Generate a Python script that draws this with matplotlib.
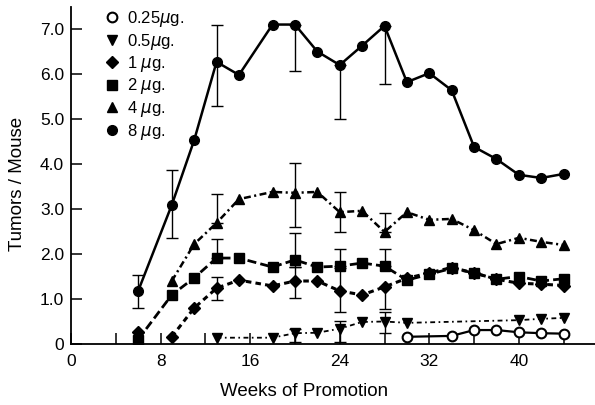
import numpy as np
import matplotlib
matplotlib.use("Agg")
import matplotlib.pyplot as plt
from matplotlib.lines import Line2D

plt.rcParams["font.family"] = ["Liberation Sans", "DejaVu Sans"]
plt.rcParams["lines.scale_dashes"] = False
plt.rcParams["mathtext.fontset"] = "dejavusans"


# ── Data: tumors per mouse by week of promotion ──────────────────────────────

weeks_8ug = [6, 9, 11, 13, 15, 18, 20, 22, 24, 26, 28, 30, 32, 34, 36, 38, 40, 42, 44]
tumors_8ug = [1.18, 3.09, 4.53, 6.27, 5.98, 7.10, 7.10, 6.50, 6.20, 6.63, 7.07,
              5.82, 6.02, 5.64, 4.38, 4.11, 3.76, 3.69, 3.78]

weeks_4ug = [9, 11, 13, 15, 18, 20, 22, 24, 26, 28, 30, 32, 34, 36, 38, 40, 42, 44]
tumors_4ug = [1.40, 2.22, 2.69, 3.22, 3.38, 3.36, 3.38, 2.93, 2.96, 2.49,
              2.93, 2.76, 2.78, 2.53, 2.22, 2.36, 2.27, 2.20]

weeks_2ug = [6, 9, 11, 13, 15, 18, 20, 22, 24, 26, 28, 30, 32, 34, 36, 38, 40, 42, 44]
tumors_2ug = [0.10, 1.09, 1.47, 1.91, 1.91, 1.71, 1.87, 1.71, 1.73, 1.80, 1.73,
              1.42, 1.55, 1.68, 1.58, 1.44, 1.50, 1.40, 1.45]

weeks_1ug = [9, 11, 13, 15, 18, 20, 22, 24, 26, 28, 30, 32, 34, 36, 38, 40, 42, 44]
tumors_1ug = [0.16, 0.80, 1.24, 1.42, 1.29, 1.40, 1.40, 1.18, 1.09, 1.27,
              1.46, 1.58, 1.70, 1.58, 1.44, 1.35, 1.33, 1.30]
# single early reading, not joined to the rest of the 1 ug curve
weeks_1ug_early = [6]
tumors_1ug_early = [0.27]

weeks_05ug = [13, 18, 20, 22, 24, 26, 28, 30, 40, 42, 44]
tumors_05ug = [0.14, 0.14, 0.24, 0.25, 0.34, 0.49, 0.50, 0.47, 0.53, 0.56, 0.58]

weeks_025ug = [30, 34, 36, 38, 40, 42, 44]
tumors_025ug = [0.16, 0.18, 0.31, 0.31, 0.26, 0.24, 0.23]

# error bars: week, extent below and above the mean
err_weeks_8ug = [6, 9, 13, 20, 24, 28]
err_lo_8ug = [0.38, 0.73, 0.97, 1.03, 1.20, 1.29]
err_hi_8ug = [0.35, 0.78, 0.83, 0.00, 0.00, 0.00]

err_weeks_4ug = [13, 20, 24, 28]
err_lo_4ug = [0.00, 0.76, 0.44, 0.00]
err_hi_4ug = [0.64, 0.66, 0.45, 0.42]

err_weeks_2ug = [13, 20, 24, 28]
err_lo_2ug = [0.00, 0.16, 0.00, 0.00]
err_hi_2ug = [0.42, 0.60, 0.38, 0.38]

err_weeks_1ug = [13, 20, 24, 28]
err_lo_1ug = [0.26, 0.38, 0.47, 0.49]
err_hi_1ug = [0.25, 0.31, 0.50, 0.00]

err_weeks_05ug = [20, 24, 28]
err_lo_05ug = [0.20, 0.30, 0.26]
err_hi_05ug = [0.09, 0.17, 0.21]

dose_labels = [r"0.25$\mu$g.", r"0.5$\mu$g.", r"1 $\mu$g.", r"2 $\mu$g.", r"4 $\mu$g.", r"8 $\mu$g."]
x_ticks = [0, 8, 16, 24, 32, 40]
y_ticks = [0, 1, 2, 3, 4, 5, 6, 7]
y_tick_labels = ["0", "1.0", "2.0", "3.0", "4.0", "5.0", "6.0", "7.0"]


# ── Figure ───────────────────────────────────────────────────────────────────

fig = plt.figure(figsize=(5.95, 4.05), dpi=100)
ax = fig.add_axes([71 / 595, 61 / 405, 524 / 595, 337 / 405])


def add_errors(weeks, values, err_weeks, lo, hi):
    ys = [values[weeks.index(w)] for w in err_weeks]
    ax.errorbar(err_weeks, ys, yerr=[lo, hi], fmt="none", ecolor="black",
                elinewidth=1.0, capsize=4, capthick=1.0, zorder=2)


# 8 ug — solid line, filled circles
ax.plot(weeks_8ug, tumors_8ug, color="black", lw=1.8, marker="o", ms=7, zorder=3)
add_errors(weeks_8ug, tumors_8ug, err_weeks_8ug, err_lo_8ug, err_hi_8ug)

# 4 ug — dash-dot, filled triangles
ax.plot(weeks_4ug, tumors_4ug, color="black", lw=1.8, dashes=(5, 2.5, 1.5, 2.5),
        marker="^", ms=7.5, zorder=3)
add_errors(weeks_4ug, tumors_4ug, err_weeks_4ug, err_lo_4ug, err_hi_4ug)

# 2 ug — long dashes, filled squares
ax.plot(weeks_2ug, tumors_2ug, color="black", lw=2.0, dashes=(6.5, 3),
        marker="s", ms=6.5, zorder=3)
add_errors(weeks_2ug, tumors_2ug, err_weeks_2ug, err_lo_2ug, err_hi_2ug)

# 1 ug — short dashes, filled diamonds
ax.plot(weeks_1ug, tumors_1ug, color="black", lw=2.2, dashes=(4, 3),
        marker="D", ms=6.5, zorder=3)
ax.plot(weeks_1ug_early, tumors_1ug_early, color="black", ls="none",
        marker="D", ms=6.5, zorder=3)
add_errors(weeks_1ug, tumors_1ug, err_weeks_1ug, err_lo_1ug, err_hi_1ug)

# 0.5 ug — thin dash-dot, inverted triangles
ax.plot(weeks_05ug, tumors_05ug, color="black", lw=1.3, dashes=(3.5, 2.5, 1.2, 2.5),
        marker="v", ms=7.5, zorder=3)
add_errors(weeks_05ug, tumors_05ug, err_weeks_05ug, err_lo_05ug, err_hi_05ug)

# 0.25 ug — solid, open circles
ax.plot(weeks_025ug, tumors_025ug, color="black", lw=1.6, marker="o", ms=7,
        markerfacecolor="white", markeredgewidth=1.5, zorder=3)

# ── Axes styling ─────────────────────────────────────────────────────────────

ax.set_xlim(0, 46.8)
ax.set_ylim(0, 7.49)
for side in ("top", "right"):
    ax.spines[side].set_visible(False)
for side in ("left", "bottom"):
    ax.spines[side].set_linewidth(1.3)

ax.set_xticks(x_ticks)
ax.set_xticks(np.arange(4, 46, 8), minor=True)
ax.set_yticks(y_ticks)
ax.set_yticklabels(y_tick_labels)
ax.tick_params(axis="both", which="both", direction="in", length=8, width=1.1,
               labelsize=12.5)
ax.tick_params(axis="x", pad=7)
ax.tick_params(axis="y", pad=5)

ax.set_xlabel("Weeks of Promotion", fontsize=13.5)
ax.xaxis.set_label_coords(0.445, -0.115)
ax.set_ylabel("Tumors / Mouse", fontsize=13.5)
ax.yaxis.set_label_coords(-0.085, 0.475)

# ── Legend ───────────────────────────────────────────────────────────────────

handles = [
    Line2D([], [], color="black", ls="none", marker="o", ms=7,
           markerfacecolor="white", markeredgewidth=1.5),
    Line2D([], [], color="black", ls="none", marker="v", ms=7.5),
    Line2D([], [], color="black", ls="none", marker="D", ms=6.5),
    Line2D([], [], color="black", ls="none", marker="s", ms=6.5),
    Line2D([], [], color="black", ls="none", marker="^", ms=7.5),
    Line2D([], [], color="black", ls="none", marker="o", ms=7),
]
fig.legend(handles, dose_labels, loc="upper left",
           bbox_to_anchor=(104 / 595, 1 - 9 / 405), frameon=False,
           fontsize=12, handlelength=1.0, handletextpad=0.4,
           labelspacing=0.15, borderpad=0, borderaxespad=0)

fig.savefig("out.png", dpi=100)
